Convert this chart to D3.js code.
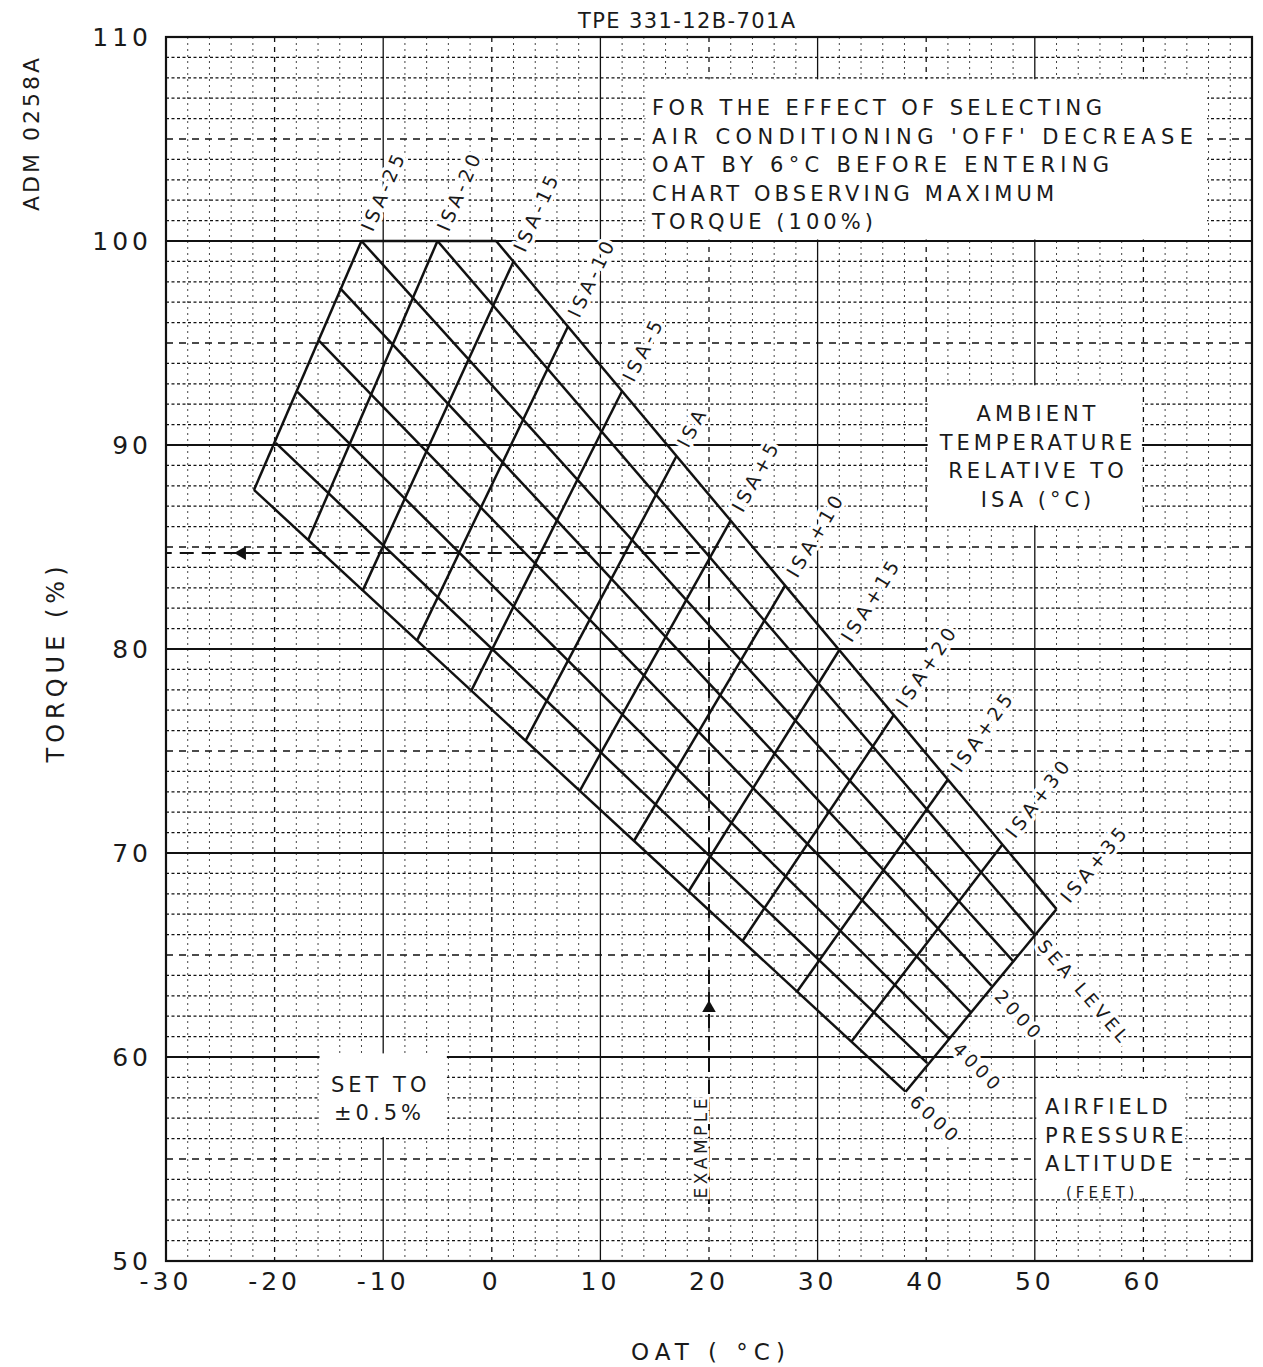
<!DOCTYPE html>
<html>
<head>
<meta charset="utf-8">
<script src="https://cdn.jsdelivr.net/npm/d3@7"></script>
<style>
  body { margin: 0; background: #fff; }
  text { font-family: "DejaVu Sans", "Liberation Sans", sans-serif; fill: #1a1a1a; }
</style>
</head>
<body>
<svg id="chart" width="1263" height="1367"></svg>
<script>
// ---- axis ticks ----
const xTicks = [-30, -20, -10, 0, 10, 20, 30, 40, 50, 60];
const yTicks = [50, 60, 70, 80, 90, 100, 110];

// ---- airfield pressure altitude lines (start on ISA-25 or the 100% cap, end on ISA+35) ----
const altitudeNames  = ["-1000", "SL", "1000", "2000", "3000", "4000", "5000", "6000"];
const altitudeLabels = ["", "SEA LEVEL", "", "2000", "", "4000", "", "6000"];
const altStartOat    = [0.4, -5, -12, -14, -15.9, -17.9, -19.9, -21.9];
const altStartTorque = [100, 100, 100, 97.7, 95.1, 92.6, 90.1, 87.8];
const altEndOat      = [52, 50, 48, 46, 44.1, 42.1, 40.1, 38.1];
const altEndTorque   = [67.25, 66.0, 64.7, 63.5, 62.2, 60.9, 59.7, 58.3];

// ---- ambient temperature relative to ISA lines (6000 ft end -> top end) ----
const isaLabels     = ["ISA-25", "ISA-20", "ISA-15", "ISA-10", "ISA-5", "ISA", "ISA+5",
                       "ISA+10", "ISA+15", "ISA+20", "ISA+25", "ISA+30", "ISA+35"];
const isaLowOat     = [-21.9, -16.9, -11.9, -6.9, -1.9, 3.1, 8.1, 13.1, 18.1, 23.1, 28.1, 33.1, 38.1];
const isaLowTorque  = [87.8, 85.35, 82.85, 80.4, 77.95, 75.5, 73.05, 70.6, 68.1, 65.7, 63.2, 60.75, 58.3];
const isaHighOat    = [-12, -5, 2, 7, 12, 17, 22, 27, 32, 37, 42, 47, 52];
const isaHighTorque = [100, 100, 99.0, 95.8, 92.65, 89.45, 86.3, 83.1, 79.95, 76.75, 73.6, 70.4, 67.25];

// ---- worked example ----
const exampleOat = 20;
const exampleStartTorque = 52.8;
const exampleTorque = 84.7;
const exampleUpArrowTorque = 62.4;
const exampleLeftArrowOat = -23;

// ---- text panels ----
const noteLines = ["FOR THE EFFECT OF SELECTING", "AIR CONDITIONING 'OFF' DECREASE",
                   "OAT BY 6°C BEFORE ENTERING", "CHART OBSERVING MAXIMUM", "TORQUE (100%)"];
const ambientLines = ["AMBIENT", "TEMPERATURE", "RELATIVE TO", "ISA (°C)"];
const airfieldLines = ["AIRFIELD", "PRESSURE", "ALTITUDE", "(FEET)"];
const setLines = ["SET TO", "±0.5%"];

const svg = d3.select("#chart");
const x = d3.scaleLinear().domain([-30, 70]).range([166, 1252]);
const y = d3.scaleLinear().domain([50, 110]).range([1261, 37]);

// ---- grid ----
const grid = svg.append("g");
d3.range(-28, 70, 2).forEach(v => {
  let style;
  if (v % 10 === 0) style = (Math.abs(v / 10) % 2 === 1) ? "solid" : "dashed";
  else style = "dotted";
  const l = grid.append("line")
    .attr("x1", x(v)).attr("x2", x(v)).attr("y1", y(110)).attr("y2", y(50))
    .attr("stroke", "#111");
  if (style === "solid") l.attr("stroke-width", 1.3);
  else if (style === "dashed") l.attr("stroke-width", 1.3).attr("stroke-dasharray", "5,5");
  else l.attr("stroke-width", 1).attr("stroke", "#444").attr("stroke-dasharray", "2,4");
});
d3.range(51, 110, 1).forEach(v => {
  const l = grid.append("line")
    .attr("x1", x(-30)).attr("x2", x(70)).attr("y1", y(v)).attr("y2", y(v))
    .attr("stroke", "#111");
  if (v % 10 === 0) l.attr("stroke-width", 2);
  else if (v % 5 === 0) l.attr("stroke-width", 1.4).attr("stroke-dasharray", "7,6");
  else l.attr("stroke-width", 1.2).attr("stroke-dasharray", "3,2.5");
});

// ---- white panels over the grid ----
function panel(x0, x1, t0, t1) {
  svg.append("rect")
    .attr("x", x(x0) + 1.5).attr("y", y(t1) + 1.5)
    .attr("width", x(x1) - x(x0) - 3).attr("height", y(t0) - y(t1) - 3)
    .attr("fill", "#fff");
}
panel(14, 66, 100, 108);
panel(40, 60, 86, 93);
panel(50, 64, 53, 59);
panel(-16, -4, 56, 60.25);

// ---- frame ----
svg.append("rect")
  .attr("x", x(-30)).attr("y", y(110)).attr("width", x(70) - x(-30)).attr("height", y(50) - y(110))
  .attr("fill", "none").attr("stroke", "#111").attr("stroke-width", 2.2);

// ---- axis tick labels ----
svg.append("g").selectAll("text").data(xTicks).join("text")
  .attr("x", d => x(d)).attr("y", y(50) + 20)
  .attr("text-anchor", "middle").attr("dominant-baseline", "central")
  .attr("font-size", 25).attr("letter-spacing", 4)
  .text(d => d);
svg.append("g").selectAll("text").data(yTicks).join("text")
  .attr("x", x(-30) - 14).attr("y", d => y(d))
  .attr("text-anchor", "end").attr("dominant-baseline", "central")
  .attr("font-size", 25).attr("letter-spacing", 4)
  .text(d => d);

// ---- titles ----
svg.append("text").attr("x", 578).attr("y", 21)
  .attr("dominant-baseline", "central").attr("font-size", 21)
  .attr("textLength", 217).attr("lengthAdjust", "spacing")
  .text("TPE 331-12B-701A");
svg.append("text").attr("transform", "translate(31,133) rotate(-90)")
  .attr("text-anchor", "middle").attr("dominant-baseline", "central")
  .attr("font-size", 22).attr("letter-spacing", 3).text("ADM 0258A");
svg.append("text").attr("transform", "translate(56,662) rotate(-90)")
  .attr("text-anchor", "middle").attr("dominant-baseline", "central")
  .attr("font-size", 24).attr("letter-spacing", 5).text("TORQUE (%)");
svg.append("text").attr("x", 711).attr("y", 1352)
  .attr("text-anchor", "middle").attr("dominant-baseline", "central")
  .attr("font-size", 23).attr("letter-spacing", 6).text("OAT ( °C)");

// ---- chart mesh ----
const mesh = svg.append("g").attr("fill", "none").attr("stroke", "#111").attr("stroke-width", 2.5)
  .attr("stroke-linejoin", "round");
const line = d3.line().x(d => x(d[0])).y(d => y(d[1]));
altitudeNames.forEach((n, i) => {
  mesh.append("path").attr("d", line([[altStartOat[i], altStartTorque[i]], [altEndOat[i], altEndTorque[i]]]));
});
isaLabels.forEach((n, i) => {
  mesh.append("path").attr("d", line([[isaLowOat[i], isaLowTorque[i]], [isaHighOat[i], isaHighTorque[i]]]));
});
// 100% torque limit across the top of the mesh
mesh.append("path").attr("d", line([[altStartOat[2], 100], [altStartOat[0], 100]]));

// ---- labels along the line extensions ----
const labels = svg.append("g");
function lineLabel(p0, p1, text, gap, size, spacing) {
  const ax = x(p0[0]), ay = y(p0[1]), bx = x(p1[0]), by = y(p1[1]);
  const len = Math.hypot(bx - ax, by - ay);
  const ux = (bx - ax) / len, uy = (by - ay) / len;
  const ang = Math.atan2(uy, ux) * 180 / Math.PI;
  labels.append("text")
    .attr("transform", `translate(${bx + ux * gap},${by + uy * gap}) rotate(${ang})`)
    .attr("dominant-baseline", "central").attr("font-size", size).attr("letter-spacing", spacing)
    .attr("stroke", "#fff").attr("stroke-width", 7).attr("paint-order", "stroke")
    .attr("stroke-linejoin", "round")
    .text(text);
}
isaLabels.forEach((n, i) => {
  lineLabel([isaLowOat[i], isaLowTorque[i]], [isaHighOat[i], isaHighTorque[i]], n, 12, 19, 4);
});
altitudeLabels.forEach((n, i) => {
  if (n) lineLabel([altStartOat[i], altStartTorque[i]], [altEndOat[i], altEndTorque[i]], n, 10, 18, 4);
});

// ---- example ----
const ex = svg.append("g");
ex.append("path")
  .attr("d", line([[exampleOat, exampleStartTorque], [exampleOat, exampleTorque], [-30, exampleTorque]]))
  .attr("fill", "none").attr("stroke", "#111").attr("stroke-width", 2)
  .attr("stroke-dasharray", "14,8");
ex.append("path")
  .attr("d", d3.symbol(d3.symbolTriangle, 80)())
  .attr("transform", `translate(${x(exampleOat)},${y(exampleUpArrowTorque)})`)
  .attr("fill", "#111");
ex.append("path")
  .attr("d", d3.symbol(d3.symbolTriangle, 80)())
  .attr("transform", `translate(${x(exampleLeftArrowOat)},${y(exampleTorque)}) rotate(-90)`)
  .attr("fill", "#111");
ex.append("text")
  .attr("transform", `translate(${x(exampleOat) - 8},${y(55.6)}) rotate(-90)`)
  .attr("text-anchor", "middle").attr("dominant-baseline", "central")
  .attr("font-size", 17).attr("letter-spacing", 3.5)
  .attr("stroke", "#fff").attr("stroke-width", 5).attr("paint-order", "stroke")
  .text("EXAMPLE");

// ---- panel texts ----
const notes = svg.append("g").attr("font-size", 21).attr("letter-spacing", 3);
const noteWidths = [453, 544, 460, 405, 224];
noteLines.forEach((t, i) => {
  notes.append("text").attr("x", 652).attr("y", 108 + i * 28.6)
    .attr("dominant-baseline", "central")
    .attr("textLength", noteWidths[i]).attr("lengthAdjust", "spacing")
    .text(t);
});
const amb = svg.append("g").attr("font-size", 21).attr("letter-spacing", 4);
ambientLines.forEach((t, i) => {
  amb.append("text").attr("x", 1038).attr("y", 414 + i * 28.7)
    .attr("text-anchor", "middle").attr("dominant-baseline", "central").text(t);
});
const air = svg.append("g").attr("letter-spacing", 4);
airfieldLines.forEach((t, i) => {
  air.append("text").attr("x", i < 3 ? 1045 : 1066).attr("y", 1107 + i * 28.7)
    .attr("font-size", i < 3 ? 21 : 15)
    .attr("dominant-baseline", "central").text(t);
});
const setp = svg.append("g").attr("font-size", 21).attr("letter-spacing", 4);
setLines.forEach((t, i) => {
  setp.append("text").attr("x", 331 + i * 3).attr("y", 1085 + i * 28)
    .attr("dominant-baseline", "central").text(t);
});
</script>
</body>
</html>
